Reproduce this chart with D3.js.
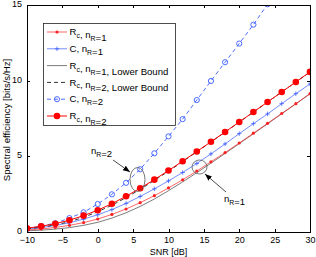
<!DOCTYPE html>
<html>
<head>
<meta charset="utf-8">
<script src="https://cdn.jsdelivr.net/npm/d3@7"></script>
<style>
  body { margin: 0; background: #fff; }
  svg { display: block; font-family: "Liberation Sans", Arial, sans-serif; }
  .axis path, .axis line { stroke: #000; shape-rendering: crispEdges; }
  .axis text { font-size: 9px; fill: #000; }
</style>
</head>
<body>
<svg width="316" height="257"></svg>
<script>
// SNR grid (dB), one point every 2 dB
var snr = [-10, -8, -6, -4, -2, 0, 2, 4, 6, 8, 10, 12, 14, 16, 18, 20, 22, 24, 26, 28, 30]

// spectral efficiency [bits/s/Hz]
var rc1 = [0.13, 0.20, 0.30, 0.44, 0.62, 0.86, 1.16, 1.52, 1.94, 2.40, 2.91, 3.45, 4.03, 4.64, 5.25, 5.88, 6.53, 7.18, 7.83, 8.48, 9.14]
var c1 = [0.20, 0.29, 0.43, 0.61, 0.85, 1.14, 1.48, 1.89, 2.35, 2.85, 3.38, 3.93, 4.53, 5.16, 5.82, 6.50, 7.16, 7.80, 8.48, 9.14, 9.78]
var lb1 = [0.08, 0.12, 0.19, 0.29, 0.44, 0.64, 0.92, 1.27, 1.69, 2.18, 2.73, 3.31, 3.92, 4.55, 5.19, 5.84, 6.49, 7.15, 7.81, 8.47, 9.13]
var lb2 = [0.20, 0.31, 0.47, 0.68, 0.97, 1.34, 1.77, 2.27, 2.82, 3.41, 4.02, 4.65, 5.30, 5.95, 6.60, 7.26, 7.92, 8.59, 9.25, 9.91, 10.57]
var c2 = [0.20, 0.40, 0.58, 0.92, 1.30, 1.85, 2.49, 3.25, 4.15, 5.20, 6.32, 7.46, 8.72, 9.98, 11.22, 12.45, 13.70, 15.05]
var rc2 = [0.25, 0.38, 0.55, 0.78, 1.08, 1.44, 1.87, 2.36, 2.89, 3.46, 4.06, 4.68, 5.32, 5.96, 6.61, 7.27, 7.93, 8.59, 9.25, 9.91, 10.58]

var xTicks = [-10, -5, 0, 5, 10, 15, 20, 25, 30]
var yTicks = [0, 5, 10, 15]

var legendLabels = ['R_c, n_R=1', 'C, n_R=1', 'R_c, n_R=1, Lower Bound', 'R_c, n_R=2, Lower Bound', 'C, n_R=2', 'R_c, n_R=2']

var margin = {top: 5, right: 6, bottom: 25, left: 27}
var width = 316 - margin.left - margin.right
var height = 257 - margin.top - margin.bottom

var x = d3.scaleLinear().domain([-10, 30]).range([0, width])
var y = d3.scaleLinear().domain([0, 15]).range([height, 0])

var svg = d3.select('svg')
var defs = svg.append('defs')
defs.append('clipPath').attr('id', 'clip')
  .append('rect').attr('width', width).attr('height', height)
defs.append('marker').attr('id', 'arrow')
  .attr('viewBox', '0 0 10 10').attr('refX', 10).attr('refY', 5)
  .attr('markerWidth', 7).attr('markerHeight', 7).attr('orient', 'auto')
  .attr('markerUnits', 'userSpaceOnUse')
  .append('path').attr('d', 'M0,1L10,5L0,9Z').attr('fill', '#000')

var group = svg.append('g')
  .attr('transform', 'translate(' + margin.left + ',' + margin.top + ')')

// series (draw order matters a little where lines overlap)
var series = [
  {v: lb1, color: '#444', w: 0.7, dash: null, mark: 'none'},
  {v: rc1, color: '#f22', w: 0.7, dash: null, mark: 'dot'},
  {v: c1, color: '#3a5cff', w: 0.7, dash: null, mark: 'plus'},
  {v: c2, color: '#3a5cff', w: 0.9, dash: '4,3', mark: 'circle'},
  {v: lb2, color: '#000', w: 0.8, dash: '4,3', mark: 'none'},
  {v: rc2, color: '#f00', w: 1, dash: null, mark: 'bigdot'}
]
var legendOrder = [1, 2, 0, 4, 3, 5]

var line = d3.line()
  .x(function (d) { return x(d[0]) })
  .y(function (d) { return y(d[1]) })

var plot = group.append('g').attr('clip-path', 'url(#clip)')

function drawMarker(sel, s) {
  if (s.mark === 'dot') {
    sel.append('circle').attr('r', 1.6).attr('fill', s.color)
  } else if (s.mark === 'bigdot') {
    sel.append('circle').attr('r', 3.3).attr('fill', s.color)
  } else if (s.mark === 'circle') {
    sel.append('circle').attr('r', 2.6).attr('fill', 'none')
      .attr('stroke', s.color).attr('stroke-width', 0.9)
  } else if (s.mark === 'plus') {
    sel.append('path').attr('d', 'M-2.2,0H2.2M0,-2.2V2.2')
      .attr('stroke', s.color).attr('stroke-width', 0.8)
  }
}

series.forEach(function (s) {
  var pts = s.v.map(function (d, i) { return [snr[i], d] })
  plot.append('path')
    .datum(pts)
    .attr('fill', 'none')
    .attr('stroke', s.color)
    .attr('stroke-width', s.w)
    .attr('stroke-dasharray', s.dash)
    .attr('d', line)
  if (s.mark !== 'none') {
    plot.selectAll(null)
      .data(pts)
      .enter()
      .append('g')
      .attr('transform', function (d) { return 'translate(' + x(d[0]) + ',' + y(d[1]) + ')' })
      .each(function () { drawMarker(d3.select(this), s) })
  }
})

// axes, MATLAB style box with inward ticks
function fmt(d) { return d < 0 ? '\u2212' + Math.abs(d) : '' + d }

group.append('g')
  .attr('class', 'axis')
  .attr('transform', 'translate(0,' + height + ')')
  .call(d3.axisBottom(x).tickValues(xTicks).tickSize(-3).tickSizeOuter(0).tickPadding(4.5).tickFormat(fmt))
group.append('g')
  .attr('class', 'axis')
  .call(d3.axisLeft(y).tickValues(yTicks).tickSize(-3).tickSizeOuter(0).tickPadding(5))
  .selectAll('text').attr('dy', '0.18em')
group.append('g')
  .attr('class', 'axis')
  .call(d3.axisTop(x).tickValues(xTicks).tickSize(-3).tickSizeOuter(0).tickFormat(''))
group.append('g')
  .attr('class', 'axis')
  .attr('transform', 'translate(' + width + ',0)')
  .call(d3.axisRight(y).tickValues(yTicks).tickSize(-3).tickSizeOuter(0).tickFormat(''))

group.selectAll('.axis .tick line').attr('stroke', '#777')

// text with "_" meaning next character is a subscript
function richText(sel, str, size) {
  var parts = str.split(/(_.)/)
  parts.forEach(function (p) {
    if (!p) return
    if (p[0] === '_') {
      sel.append('tspan').attr('dy', size * 0.3).attr('font-size', size * 0.72).text(p[1])
      sel.append('tspan').attr('dy', -size * 0.3).text('')
    } else {
      sel.append('tspan').text(p)
    }
  })
}

// axis titles
svg.append('text')
  .attr('x', margin.left + width / 2).attr('y', 254.5)
  .attr('text-anchor', 'middle').attr('font-size', 9)
  .text('SNR [dB]')
svg.append('text')
  .attr('transform', 'translate(9.5,' + 120 + ') rotate(-90)')
  .attr('text-anchor', 'middle').attr('font-size', 9.6)
  .text('Spectral efficiency [bits/s/Hz]')

// annotations
var ann = svg.append('g')
ann.append('ellipse').attr('cx', 137.5).attr('cy', 179.5).attr('rx', 7.5).attr('ry', 12)
  .attr('fill', 'none').attr('stroke', '#555').attr('stroke-width', 0.8)
ann.append('ellipse').attr('cx', 199.5).attr('cy', 167).attr('rx', 7.5).attr('ry', 7)
  .attr('fill', 'none').attr('stroke', '#555').attr('stroke-width', 0.8)
ann.append('line').attr('x1', 113).attr('y1', 160).attr('x2', 130).attr('y2', 172)
  .attr('stroke', '#000').attr('stroke-width', 0.7).attr('marker-end', 'url(#arrow)')
ann.append('line').attr('x1', 226).attr('y1', 192).attr('x2', 205).attr('y2', 174)
  .attr('stroke', '#000').attr('stroke-width', 0.7).attr('marker-end', 'url(#arrow)')
ann.append('text').attr('x', 91).attr('y', 154).attr('font-size', 9.5)
  .call(richText, 'n_R=2', 9.5)
ann.append('text').attr('x', 224).attr('y', 202).attr('font-size', 9.5)
  .call(richText, 'n_R=1', 9.5)

// legend
var legend = svg.append('g')
legend.append('rect')
  .attr('x', 43.5).attr('y', 23.5).attr('width', 132).attr('height', 102)
  .attr('fill', '#fff').attr('stroke', '#222').attr('stroke-width', 0.8)

legendOrder.forEach(function (si, i) {
  var s = series[si]
  var ly = 32 + i * 16.8
  var row = legend.append('g').attr('transform', 'translate(0,' + ly + ')')
  row.append('line').attr('x1', 47).attr('x2', 67)
    .attr('stroke', s.color).attr('stroke-width', s.w)
    .attr('stroke-dasharray', s.dash)
  drawMarker(row.append('g').attr('transform', 'translate(57,0)'), s)
  row.append('text').attr('x', 69.5).attr('y', 3.2).attr('font-size', 9.6)
    .call(richText, legendLabels[i], 9.6)
})
</script>
</body>
</html>
